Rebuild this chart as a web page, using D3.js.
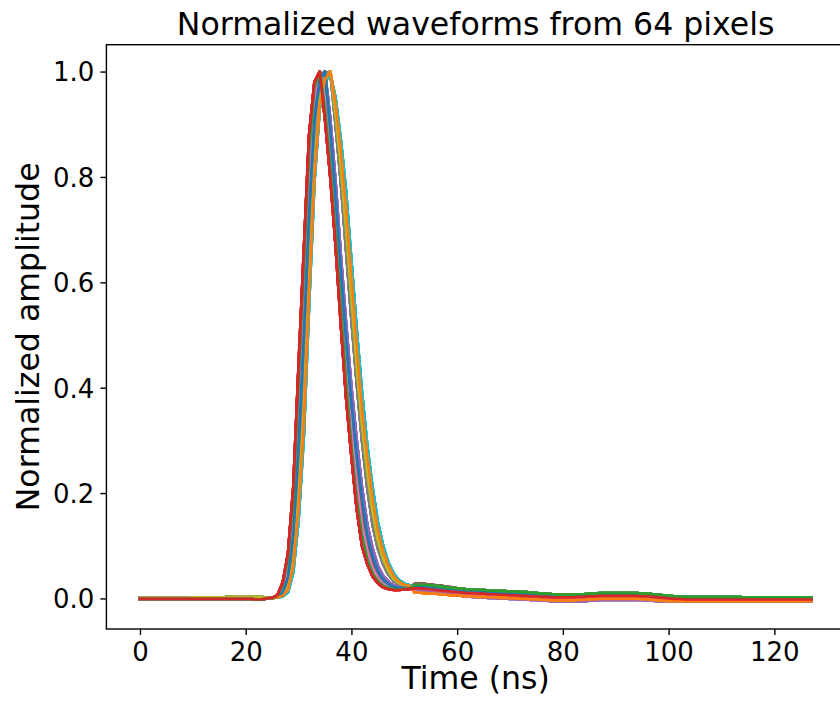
<!DOCTYPE html>
<html>
  <head>
    <meta charset="utf-8">
    <title>Normalized waveforms</title>
    <style type="text/css">
      body { margin: 0; background: #fff; }
      svg { display: block; font-family: "DejaVu Sans", sans-serif; }
    </style>
    <script src="https://d3js.org/d3.v7.min.js"></script>
  </head>
  <body>
    <svg class="chart" width="840" height="705"></svg>
    <script>

// baseline samples, t = 0..23 ns
var base0 = [-0.001,-0.001,-0.001,-0.001,-0.001,-0.001,-0.001,-0.001,-0.001,-0.001,
             -0.001,-0.001,-0.001,-0.001,-0.001,-0.001,-0.001,-0.001,-0.001,-0.001,
             -0.001,-0.001,-0.002,-0.002];
var base1 = [0.001,0.001,0.001,0.001,0.001,0.001,0.001,0.001,0.001,0.001,
             0.002,0.002,0.002,0.002,0.002,0.002,0.002,0.003,0.003,0.003,
             0.003,0.003,0.003,0.003];

// pulse samples, t = 24..51 ns (earliest -> latest)
var pulse0 = [0.000,0.001,0.006,0.030,0.085,0.21,0.44,0.66,0.88,0.98,1.00,0.91,0.80,0.67,
              0.52,0.38,0.27,0.17,0.10,0.065,0.042,0.029,0.021,0.018,0.016,0.016,0.017,0.018];
var pulse1 = [0.000,0.001,0.005,0.026,0.075,0.19,0.41,0.63,0.85,0.97,1.00,0.93,0.82,0.69,
              0.55,0.41,0.29,0.19,0.12,0.075,0.048,0.033,0.024,0.020,0.018,0.017,0.018,0.019];
var pulse2 = [0.000,0.001,0.004,0.020,0.060,0.16,0.36,0.58,0.81,0.95,1.00,0.95,0.84,0.71,
              0.57,0.43,0.32,0.22,0.14,0.09,0.058,0.039,0.028,0.022,0.019,0.018,0.018,0.019];
var pulse3 = [0.000,0.001,0.004,0.016,0.050,0.14,0.32,0.54,0.77,0.93,0.99,1.00,0.87,0.74,
              0.60,0.46,0.35,0.25,0.16,0.105,0.068,0.045,0.032,0.025,0.021,0.019,0.019,0.020];
var pulse4 = [0.000,0.001,0.003,0.012,0.040,0.12,0.29,0.50,0.73,0.91,0.985,1.00,0.89,0.76,
              0.62,0.49,0.37,0.27,0.19,0.12,0.08,0.052,0.036,0.027,0.022,0.020,0.020,0.020];
var pulse5 = [0.000,0.001,0.003,0.010,0.033,0.10,0.26,0.46,0.69,0.88,0.975,1.00,0.91,0.79,
              0.65,0.52,0.40,0.30,0.21,0.14,0.095,0.062,0.043,0.032,0.025,0.022,0.021,0.021];
var pulse6 = [0.001,0.001,0.002,0.007,0.025,0.08,0.22,0.40,0.64,0.85,0.96,0.995,1.00,0.90,
              0.79,0.66,0.53,0.41,0.30,0.21,0.14,0.095,0.065,0.045,0.033,0.027,0.024,0.022];
var pulse7 = [0.001,0.001,0.002,0.006,0.020,0.07,0.19,0.36,0.60,0.82,0.945,0.99,1.00,0.92,
              0.82,0.70,0.57,0.44,0.33,0.24,0.165,0.11,0.075,0.052,0.037,0.029,0.025,0.023];
var pulse8 = [0.001,0.001,0.002,0.005,0.016,0.06,0.17,0.33,0.58,0.80,0.935,0.985,1.00,0.94,
              0.85,0.74,0.61,0.48,0.36,0.27,0.19,0.13,0.09,0.062,0.043,0.032,0.026,0.024];
var pulse9 = [0.001,0.001,0.002,0.004,0.012,0.05,0.15,0.31,0.56,0.79,0.93,0.98,0.995,0.95,
              0.87,0.77,0.64,0.51,0.39,0.29,0.21,0.145,0.10,0.068,0.047,0.035,0.028,0.025];

// tail samples, t = 52..127 ns
var tailLow = [0.011,0.011,0.010,0.009,0.009,0.008,0.007,0.006,0.006,0.005,
               0.004,0.004,0.003,0.003,0.002,0.002,0.001,0.001,0.000,0.000,
               -0.001,-0.001,-0.002,-0.002,-0.003,-0.003,-0.004,-0.004,-0.004,-0.004,
               -0.004,-0.003,-0.003,-0.002,-0.002,-0.001,-0.001,-0.001,-0.001,-0.001,
               -0.001,-0.001,-0.001,-0.002,-0.002,-0.003,-0.004,-0.004,-0.005,-0.005,
               -0.005,-0.005,-0.005,-0.005,-0.005,-0.005,-0.005,-0.005,-0.005,-0.005,
               -0.005,-0.005,-0.005,-0.005,-0.005,-0.005,-0.005,-0.005,-0.005,-0.005,
               -0.005,-0.005,-0.005,-0.005,-0.005,-0.005];
var tailLow2 = [0.013,0.013,0.012,0.011,0.010,0.009,0.008,0.007,0.006,0.005,
                0.004,0.003,0.003,0.002,0.001,0.001,0.000,0.000,-0.001,-0.001,
                -0.002,-0.002,-0.003,-0.003,-0.004,-0.004,-0.005,-0.005,-0.006,-0.006,
                -0.006,-0.005,-0.005,-0.004,-0.004,-0.003,-0.003,-0.003,-0.003,-0.003,
                -0.003,-0.003,-0.003,-0.003,-0.004,-0.004,-0.005,-0.005,-0.005,-0.005,
                -0.005,-0.005,-0.005,-0.005,-0.005,-0.005,-0.005,-0.005,-0.005,-0.005,
                -0.005,-0.005,-0.005,-0.005,-0.005,-0.005,-0.005,-0.005,-0.005,-0.005,
                -0.005,-0.005,-0.005,-0.005,-0.005,-0.005];
var tailMid = [0.019,0.019,0.018,0.017,0.016,0.015,0.014,0.013,0.012,0.011,
               0.010,0.010,0.009,0.009,0.008,0.008,0.007,0.007,0.006,0.006,
               0.005,0.005,0.004,0.004,0.003,0.003,0.002,0.002,0.002,0.002,
               0.002,0.003,0.003,0.004,0.004,0.005,0.005,0.005,0.005,0.005,
               0.005,0.005,0.005,0.004,0.004,0.003,0.002,0.001,0.000,-0.001,
               -0.001,-0.002,-0.002,-0.002,-0.002,-0.002,-0.002,-0.002,-0.002,-0.002,
               -0.002,-0.002,-0.002,-0.002,-0.002,-0.002,-0.002,-0.002,-0.002,-0.002,
               -0.002,-0.002,-0.002,-0.002,-0.002,-0.002];
var tailMidHigh = [0.022,0.022,0.021,0.020,0.019,0.018,0.017,0.016,0.015,0.014,
                   0.013,0.013,0.012,0.012,0.011,0.011,0.010,0.010,0.009,0.009,
                   0.008,0.008,0.007,0.007,0.006,0.006,0.005,0.005,0.004,0.004,
                   0.004,0.005,0.005,0.006,0.006,0.007,0.007,0.007,0.007,0.007,
                   0.007,0.007,0.007,0.006,0.006,0.005,0.004,0.003,0.002,0.001,
                   0.001,0.000,0.000,0.000,0.000,0.000,0.000,0.000,0.000,0.000,
                   0.000,0.000,0.000,0.000,0.000,0.000,0.000,0.000,0.000,0.000,
                   0.000,0.000,0.000,0.000,0.000,0.000];
var tailHigh = [0.026,0.026,0.026,0.025,0.024,0.023,0.021,0.020,0.019,0.018,
                0.017,0.017,0.016,0.016,0.015,0.015,0.014,0.014,0.013,0.013,
                0.012,0.012,0.011,0.010,0.009,0.009,0.008,0.007,0.007,0.007,
                0.007,0.008,0.008,0.009,0.009,0.010,0.010,0.010,0.010,0.010,
                0.010,0.010,0.010,0.009,0.009,0.008,0.007,0.006,0.005,0.004,
                0.004,0.003,0.003,0.003,0.003,0.003,0.003,0.003,0.003,0.003,
                0.003,0.003,0.002,0.002,0.002,0.002,0.002,0.002,0.002,0.002,
                0.002,0.002,0.002,0.002,0.002,0.002];
var tailBrown = [0.028,0.028,0.027,0.026,0.025,0.024,0.022,0.021,0.019,0.018,
                 0.017,0.016,0.015,0.015,0.014,0.014,0.013,0.013,0.012,0.012,
                 0.011,0.011,0.010,0.009,0.008,0.008,0.007,0.006,0.006,0.006,
                 0.006,0.007,0.007,0.008,0.008,0.009,0.009,0.009,0.009,0.009,
                 0.009,0.009,0.009,0.008,0.008,0.007,0.006,0.005,0.004,0.003,
                 0.003,0.002,0.002,0.002,0.002,0.002,0.002,0.002,0.002,0.002,
                 0.001,0.001,0.001,0.001,0.001,0.001,0.001,0.001,0.001,0.001,
                 0.001,0.001,0.001,0.001,0.001,0.001];

var bases = [base0, base1];
var pulses = [pulse0, pulse1, pulse2, pulse3, pulse4, pulse5, pulse6, pulse7, pulse8, pulse9];
var tails = [tailLow, tailLow2, tailMid, tailMidHigh, tailHigh, tailBrown];

// which pieces each of the 64 pixels is made of
var pixelBase  = [0,0,1,0,0,1,0,0,1,1, 0,1,1,0,0,0,1,0,1,1, 1,0,0,0,1,0,0,1,1,0,
                  0,0,1,0,1,0,0,1,1,1, 0,0,1,0,0,1,0,0,1,0, 1,0,1,0,0,0,1,0,1,0, 0,0,0,0];
var pixelPulse = [4,8,1,0,5,3,2,6,7,9, 4,8,1,0,6,3,2,5,7,9, 2,8,1,0,5,3,4,6,7,9,
                  4,8,2,0,5,3,2,6,7,9, 4,8,1,0,5,3,2,6,7,9, 4,8,1,0,5,3,2,6,7,9, 4,8,1,0];
var pixelTail  = [3,0,4,2,1,5,2,4,3,3, 3,0,4,2,1,5,2,4,3,3, 3,0,4,2,1,5,2,4,3,3,
                  3,0,4,2,1,5,2,4,3,3, 3,0,4,2,1,5,2,4,3,3, 3,0,4,2,1,5,2,4,3,3, 3,0,4,2];

var xTicks = [0, 20, 40, 60, 80, 100, 120];
var yTicks = [0.0, 0.2, 0.4, 0.6, 0.8, 1.0];

var colors = ["#1f77b4","#ff7f0e","#2ca02c","#d62728","#9467bd",
              "#8c564b","#e377c2","#7f7f7f","#bcbd22","#17becf"];

var waveforms = pixelPulse.map(function(p, i) {
  return bases[pixelBase[i]].concat(pulses[p], tails[pixelTail[i]]);
});

// plot box
var box = {left: 106.4, right: 844.9, top: 44.7, bottom: 629};

var svg = d3.select(".chart");

var x = d3.scaleLinear().domain([-6.35, 133.35]).range([box.left, box.right]);
var y = d3.scaleLinear().domain([-0.058, 1.051]).range([box.bottom, box.top]);

var line = d3.line()
  .x(function(d, i) { return x(i); })
  .y(function(d) { return y(d); });

svg.append("g")
  .selectAll("path")
  .data(waveforms)
  .enter().append("path")
    .attr("fill", "none")
    .attr("stroke", function(d, i) { return colors[i % 10]; })
    .attr("stroke-width", 2.7)
    .attr("stroke-linejoin", "round")
    .attr("stroke-linecap", "square")
    .attr("d", line);

// axes
var xAxis = svg.append("g")
  .attr("transform", "translate(0," + box.bottom + ")")
  .call(d3.axisBottom(x).tickValues(xTicks).tickSize(6).tickPadding(8).tickSizeOuter(0));
var yAxis = svg.append("g")
  .attr("transform", "translate(" + box.left + ",0)")
  .call(d3.axisLeft(y).tickValues(yTicks).tickSize(6).tickPadding(6).tickSizeOuter(0)
    .tickFormat(d3.format(".1f")));

[xAxis, yAxis].forEach(function(a) {
  a.select(".domain").remove();
  a.selectAll(".tick line").attr("stroke", "#000").attr("stroke-width", 1.4);
  a.selectAll(".tick text").attr("fill", "#000").style("font-size", "26px")
    .style("font-family", "'DejaVu Sans', sans-serif");
});
yAxis.selectAll(".tick text").attr("dy", "0.36em");

// frame
svg.append("rect")
  .attr("x", box.left).attr("y", box.top)
  .attr("width", box.right - box.left).attr("height", box.bottom - box.top)
  .attr("fill", "none").attr("stroke", "#000").attr("stroke-width", 1.4);

svg.append("text")
  .attr("x", (box.left + box.right) / 2).attr("y", 35)
  .attr("text-anchor", "middle")
  .style("font-size", "31.6px")
  .text("Normalized waveforms from 64 pixels");

svg.append("text")
  .attr("x", (box.left + box.right) / 2).attr("y", 689)
  .attr("text-anchor", "middle")
  .style("font-size", "31.6px")
  .text("Time (ns)");

svg.append("text")
  .attr("transform", "translate(39," + (box.top + box.bottom) / 2 + ") rotate(-90)")
  .attr("text-anchor", "middle")
  .style("font-size", "31.6px")
  .text("Normalized amplitude");

</script>
  </body>
</html>
